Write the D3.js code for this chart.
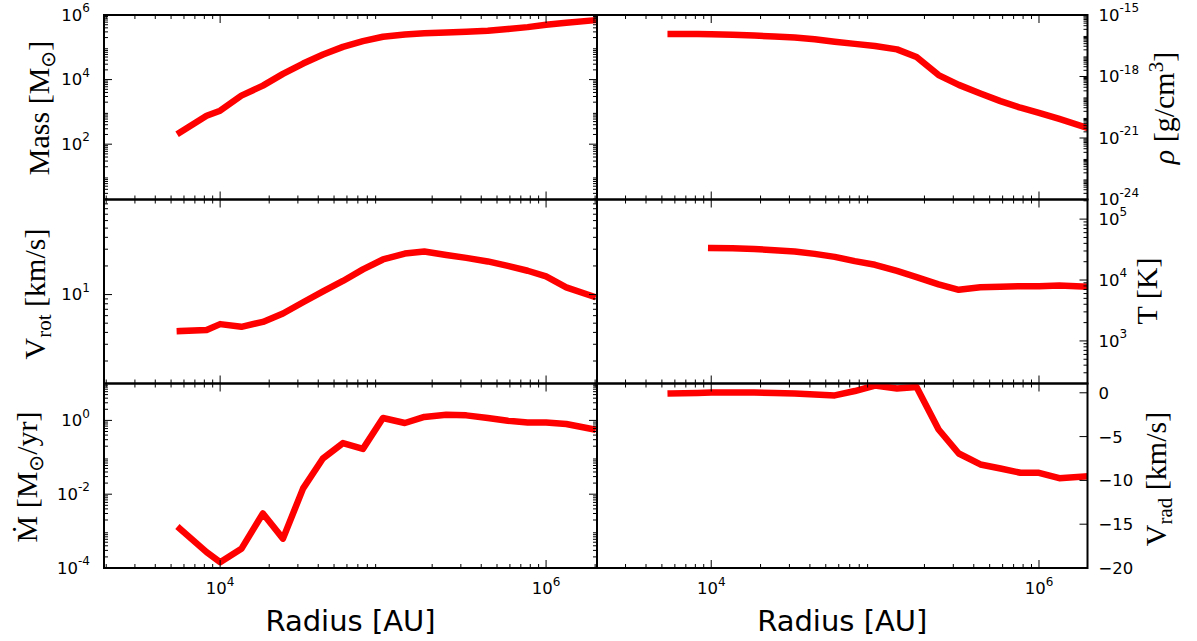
<!DOCTYPE html>
<html><head><meta charset="utf-8">
<script src="https://cdn.jsdelivr.net/npm/d3@7"></script>
<style>body{margin:0;background:#fff}svg{display:block}</style>
</head><body>
<svg id="c" width="1197" height="641"></svg>
<script>
// ---------- data ----------
const radiusAU = [5660, 8260, 1.0e4, 1.35e4, 1.83e4, 2.43e4, 3.23e4, 4.28e4, 5.67e4, 7.52e4, 9.98e4,
  1.36e5, 1.79e5, 2.44e5, 3.24e5, 4.39e5, 5.82e5, 7.71e5, 1.0e6, 1.33e6, 1.93e6];
const massMsun = [231, 762, 1090, 3180, 6520, 1.5e4, 3.14e4, 5.97e4, 1.03e5, 1.55e5, 2.12e5,
  2.5e5, 2.74e5, 2.88e5, 3.02e5, 3.25e5, 3.66e5, 4.21e5, 5.0e5, 5.77e5, 6.8e5];
const vrotKms = [4.13, 4.23, 4.89, 4.58, 5.16, 6.32, 8.3, 10.8, 13.9, 18.4, 23.4,
  27, 28.4, 26.1, 24.3, 22.3, 20, 17.8, 15.5, 11.9, 9.6];
const mdotMsunYr = [1.17e-3, 2.7e-4, 1.44e-4, 3.3e-4, 3.0e-3, 6.25e-4, 0.0144, 0.094, 0.242, 0.169, 1.16,
  0.85, 1.24, 1.43, 1.37, 1.16, 0.98, 0.88, 0.88, 0.80, 0.58];
const densityGcm3 = [1.17e-16, 1.17e-16, 1.15e-16, 1.1e-16, 1.0e-16, 8.9e-17, 7.9e-17, 6.5e-17, 5.0e-17, 3.9e-17, 3.1e-17,
  2.1e-17, 8.9e-18, 1.17e-18, 3.9e-19, 1.48e-19, 6.3e-20, 3.0e-20, 1.7e-20, 8.5e-21, 3.3e-21];
const tempK = [null, null, 33500, 33100, 32400, 30900, 29500, 26900, 24000, 20400, 17800,
  14100, 11200, 8510, 6920, 7590, 7760, 7940, 7940, 8130, 7760];
const vradKms = [-0.08, -0.02, 0.03, 0.03, 0.03, -0.02, -0.08, -0.2, -0.3, 0.2, 0.83,
  0.5, 0.66, -4.19, -6.93, -8.18, -8.64, -9.13, -9.13, -9.75, -9.55];

// tick labels
const radiusTickExps = [4, 6];
const massTickExps = [2, 4, 6];
const densityTickExps = [-24, -21, -18, -15];
const vrotTickExps = [1];
const tempTickExps = [3, 4, 5];
const mdotTickExps = [-4, -2, 0];
const vradTicks = [0, -5, -10, -15, -20];

// ---------- layout ----------
const svg = d3.select("#c");
const cols = [
  {x0: 104, x1: 597, xd: [Math.pow(10, 3.2874), Math.pow(10, 6.3125)], side: "left"},
  {x0: 597, x1: 1087.5, xd: [Math.pow(10, 3.303), Math.pow(10, 6.296)], side: "right"}
];
const rows = [[15, 199.5], [199.5, 383.5], [383.5, 568]];
const SANS = "'DejaVu Sans', sans-serif";
const SERIF = "'Liberation Serif', 'DejaVu Serif', serif";

const panels = [
  {col: 0, row: 0, type: "log", yd: [Math.pow(10, 0.287), 1e6], y: massMsun, exps: massTickExps,
   label: [["Mass [M"], ["\u2299", "sub"], ["]"]], lx: 49, ly: 108},
  {col: 1, row: 0, type: "log", yd: [1e-24, 1e-15], y: densityGcm3, exps: densityTickExps,
   label: [["\u03c1", "it"], [" [g/cm"], ["3", "sup"], ["]"]], lx: 1174, ly: 108},
  {col: 0, row: 1, type: "log", yd: [1.16, 100], y: vrotKms, exps: vrotTickExps,
   label: [["V"], ["rot", "sub"], [" [km/s]"]], lx: 45, ly: 294},
  {col: 1, row: 1, type: "log", yd: [200, 2.1e5], y: tempK, exps: tempTickExps,
   label: [["T [K]"]], lx: 1157, ly: 291},
  {col: 0, row: 2, type: "log", yd: [1e-4, 10], y: mdotMsunYr, exps: mdotTickExps,
   label: [["\u1E40 [M"], ["\u2299", "sub"], ["/yr]"]], lx: 37, ly: 477},
  {col: 1, row: 2, type: "linear", yd: [-20, 1.06], y: vradKms, ticks: vradTicks,
   label: [["V"], ["rad", "sub"], [" [km/s]"]], lx: 1166, ly: 479}
];

function minorLogTicks(dom) {
  const lo = Math.floor(Math.log10(dom[0])), hi = Math.ceil(Math.log10(dom[1]));
  const out = [];
  for (let d = lo; d <= hi; d++) for (let m = 2; m <= 9; m++) {
    const v = m * Math.pow(10, d);
    if (v > dom[0] * 1.0001 && v < dom[1] / 1.0001) out.push(v);
  }
  return out;
}
function powLabel(sel, exp, anchor) {
  sel.attr("font-family", SANS).attr("text-anchor", anchor).attr("fill", "#000");
  sel.append("tspan").attr("font-size", 16.5).text("10");
  sel.append("tspan").attr("font-size", 12).attr("dy", -8.5).text(String(exp));
}

panels.forEach((p, i) => {
  const c = cols[p.col], r = rows[p.row];
  const x = d3.scaleLog().domain(c.xd).range([c.x0, c.x1]);
  const y = (p.type === "log" ? d3.scaleLog() : d3.scaleLinear()).domain(p.yd).range([r[1], r[0]]);
  const g = svg.append("g");

  // clip + line
  const cid = "clip" + i;
  svg.append("clipPath").attr("id", cid).append("rect")
    .attr("x", c.x0).attr("y", r[0]).attr("width", c.x1 - c.x0).attr("height", r[1] - r[0]);
  const data = radiusAU.map((rad, k) => [rad, p.y[k]]);
  g.append("path").datum(data)
    .attr("clip-path", `url(#${cid})`)
    .attr("fill", "none").attr("stroke", "#ff0000").attr("stroke-width", 6.5)
    .attr("stroke-linejoin", "round").attr("stroke-linecap", "square")
    .attr("d", d3.line().defined(d => d[1] != null).x(d => x(d[0])).y(d => y(d[1])));

  const tk = g.append("g").attr("stroke", "#000").attr("stroke-width", 1);
  // x ticks, top and bottom, inward
  const xMaj = radiusTickExps.map(e => Math.pow(10, e));
  const xMin = minorLogTicks(c.xd);
  [[xMaj, 8], [xMin, 4]].forEach(([vals, len]) => vals.forEach(v => {
    const px = x(v);
    tk.append("line").attr("x1", px).attr("x2", px).attr("y1", r[1]).attr("y2", r[1] - len);
    tk.append("line").attr("x1", px).attr("x2", px).attr("y1", r[0]).attr("y2", r[0] + len);
  }));
  // y ticks
  let yMaj, yMin;
  if (p.type === "log") { yMaj = p.exps.map(e => Math.pow(10, e)); yMin = minorLogTicks(p.yd); }
  else { yMaj = p.ticks; yMin = []; }
  [[yMaj, 8], [yMin, 4]].forEach(([vals, len]) => vals.forEach(v => {
    const py = y(v);
    if (p.col === 0) {
      tk.append("line").attr("x1", c.x0).attr("x2", c.x0 + len).attr("y1", py).attr("y2", py);
      tk.append("line").attr("x1", c.x1).attr("x2", c.x1 - len).attr("y1", py).attr("y2", py);
    } else {
      tk.append("line").attr("x1", c.x1).attr("x2", c.x1 - len).attr("y1", py).attr("y2", py);
    }
  }));

  // y tick labels
  if (p.type === "log") {
    p.exps.forEach(e => {
      const t = g.append("text").attr("y", y(Math.pow(10, e))).attr("dy", "0.36em");
      if (p.col === 0) { t.attr("x", c.x0 - 14); powLabel(t, e, "end"); }
      else { t.attr("x", c.x1 + 11); powLabel(t, e, "start"); }
    });
  } else {
    p.ticks.forEach(v => {
      g.append("text").attr("x", c.x1 + 11).attr("y", y(v)).attr("dy", "0.36em")
        .attr("font-family", SANS).attr("font-size", 16.5).attr("text-anchor", "start")
        .text(v < 0 ? "\u2212" + Math.abs(v) : String(v));
    });
  }

  // x tick labels on bottom row
  if (p.row === 2) {
    radiusTickExps.forEach(e => {
      const t = g.append("text").attr("x", x(Math.pow(10, e))).attr("y", 594);
      powLabel(t, e, "middle");
    });
    g.append("text").attr("x", (c.x0 + c.x1) / 2).attr("y", 631)
      .attr("font-family", SANS).attr("font-size", 29).attr("text-anchor", "middle")
      .text("Radius [AU]");
  }

  // spines
  g.append("rect").attr("x", c.x0).attr("y", r[0]).attr("width", c.x1 - c.x0).attr("height", r[1] - r[0])
    .attr("fill", "none").attr("stroke", "#000").attr("stroke-width", 2);

  // y axis label (rotated)
  const lt = g.append("text").attr("transform", `translate(${p.lx},${p.ly}) rotate(-90)`)
    .attr("font-family", SERIF).attr("font-size", 30).attr("text-anchor", "middle");
  let shift = 0;
  p.label.forEach(([txt, kind]) => {
    const ts = lt.append("tspan").text(txt);
    if (kind === "sub") {
      ts.attr("font-size", txt === "\u2299" ? 20 : 21).attr("dy", 6 - shift); shift = 6;
      if (txt === "\u2299") ts.attr("font-family", SANS);
    } else if (kind === "sup") {
      ts.attr("font-size", 21).attr("dy", -11 - shift); shift = -11;
    } else {
      if (shift !== 0) { ts.attr("dy", -shift); shift = 0; }
      if (kind === "it") ts.attr("font-style", "italic");
    }
  });
});
</script>
</body></html>
